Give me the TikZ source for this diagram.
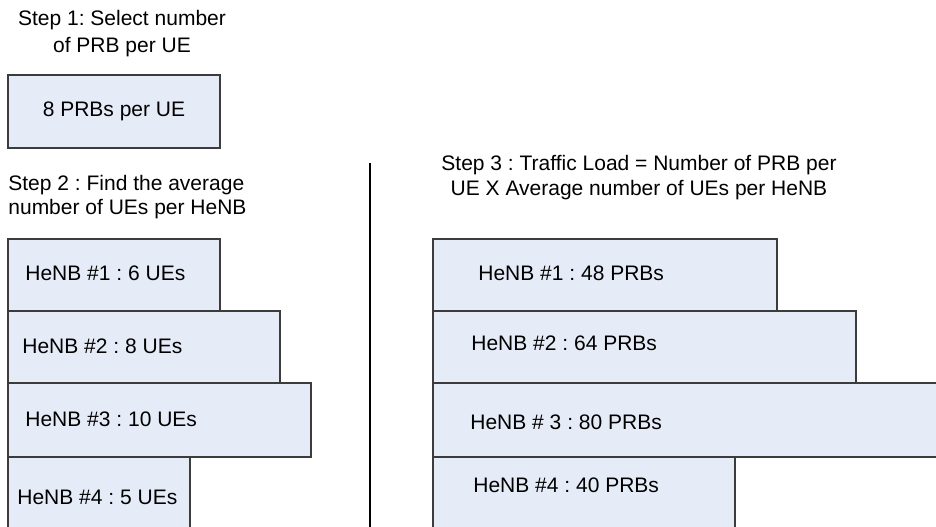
\documentclass[tikz,border=0pt]{standalone}
\usepackage{fontspec}
\setmainfont{Liberation Sans}
\usetikzlibrary{positioning}
\frenchspacing

\definecolor{boxfill}{HTML}{E6ECF7}
\definecolor{boxline}{HTML}{3C3C3C}

\tikzset{
  bar/.style={draw=boxline, fill=boxfill, line width=1pt, anchor=north west, inner sep=0pt},
  txt/.style={inner sep=0pt, font=\fontsize{10.5}{12.5}\selectfont},
}

\begin{document}
\begin{tikzpicture}[x=0.5pt,y=-0.5pt]
			\useasboundingbox (0,0) rectangle (936,526);
			\clip (0,0) rectangle (936,526);
			% step 1
			\node[txt, align=center, font=\fontsize{10.5}{13.5}\selectfont] (stepone) at (122,34) {Step 1: Select number\\of PRB per UE};
			\node[bar, minimum width=106pt, minimum height=36.5pt, font=\fontsize{10.5}{12.5}\selectfont] (prb) at (7,74) {8 PRBs per UE};
			% step 2
			\node[txt, align=left, anchor=west, font=\fontsize{10.5}{12}\selectfont] (steptwo) at (8,197) {Step 2 : Find the average\\number of UEs per HeNB};
			\node[bar, minimum width=106pt, minimum height=36pt] (ue1) at (7,238) {};
			\node[bar, minimum width=136pt, minimum height=36pt] (ue2) at (7,310) {};
			\node[bar, minimum width=151.5pt, minimum height=37pt] (ue3) at (7,382) {};
			\node[bar, minimum width=91pt, minimum height=45pt] (ue4) at (7,456) {};
			\node[txt, anchor=west] (ueone) at (25,273) {HeNB \#1 : 6 UEs};
			\node[txt, anchor=west] (uetwo) at (22,346) {HeNB \#2 : 8 UEs};
			\node[txt, anchor=west] (uethree) at (25,419) {HeNB \#3 : 10 UEs};
			\node[txt, anchor=west] (uefour) at (17,497) {HeNB \#4 : 5 UEs};
			% divider
			\coordinate (divtop) at (370,163);
			\coordinate (divbot) at (370,540);
			\draw[black, line width=1pt] (divtop) -- (divbot);
			% step 3
			\node[txt, align=center] (stepthree) at (639,178) {Step 3 : Traffic Load = Number of PRB per\\UE X Average number of UEs per HeNB};
			\node[bar, minimum width=172pt, minimum height=36pt] (load1) at (432,238) {};
			\node[bar, minimum width=211.5pt, minimum height=36pt] (load2) at (432,310) {};
			\node[bar, minimum width=270pt, minimum height=37pt] (load3) at (432,382) {};
			\node[bar, minimum width=151pt, minimum height=45pt] (load4) at (432,456) {};
			\node[txt, anchor=west] (loadone) at (478,273) {HeNB \#1 : 48 PRBs};
			\node[txt, anchor=west] (loadtwo) at (471,343) {HeNB \#2 : 64 PRBs};
			\node[txt, anchor=west] (loadthree) at (470,422) {HeNB \# 3 : 80 PRBs};
			\node[txt, anchor=west] (loadfour) at (473,485) {HeNB \#4 : 40 PRBs};
\end{tikzpicture}
\end{document}
